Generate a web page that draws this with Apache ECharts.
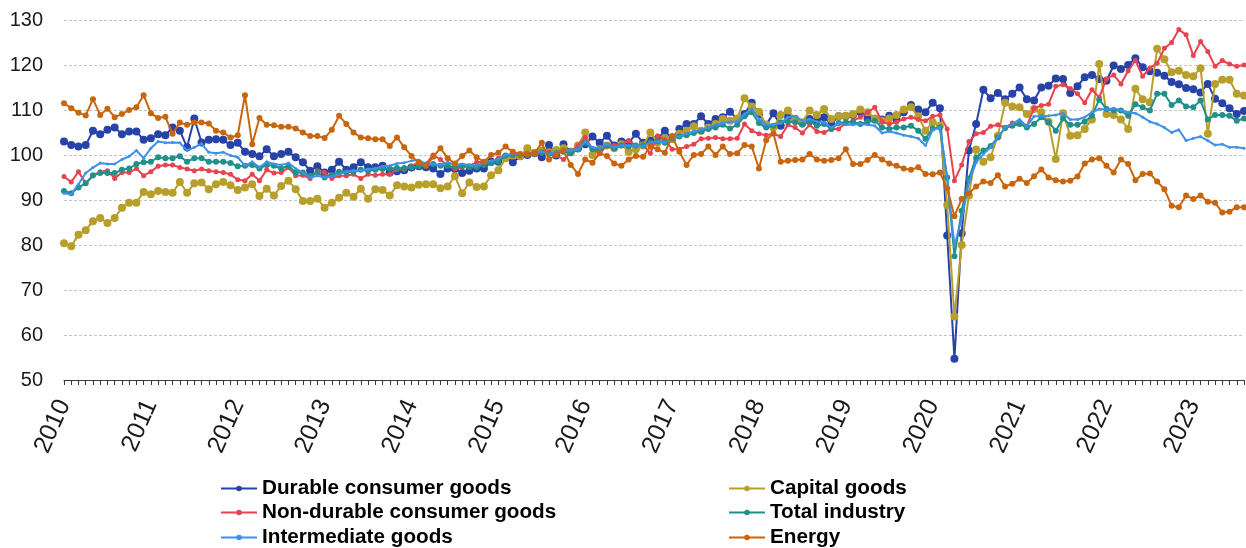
<!DOCTYPE html>
<html><head><meta charset="utf-8">
<script src="https://cdn.jsdelivr.net/npm/echarts@6/dist/echarts.min.js"></script>
<style>html,body{margin:0;padding:0;background:#fff}#c{width:1246px;height:548px}</style>
</head><body><div id="c"></div>
<script>
// Monthly categories Jan 2010 .. Aug 2023
const startYear = 2010, monthCount = 164;
const categories = [];
for (let i = 0; i < monthCount; i++) {
  const y = startYear + Math.floor(i / 12), m = (i % 12) + 1;
  categories.push(y + '-' + (m < 10 ? '0' + m : m));
}
const yTicks = [50, 60, 70, 80, 90, 100, 110, 120, 130];

const durable = [
103,102.2,101.9,102.2,105.4,104.6,105.6,106.1,104.6,105.2,105.2,103.4,
103.7,104.6,104.4,106.1,105.4,101.7,108.1,102.8,103.4,103.5,103.4,102.2,
102.7,100.7,100.2,99.7,101.3,99.7,100.2,100.7,99.5,98.4,96.5,97.5,
96.1,96.7,98.5,96.7,97.3,98.4,97.3,97.3,97.6,96.1,96.4,96.6,
97.2,97.5,97.3,97,95.8,97,96.9,96,96.5,97,97,98.5,
98.5,99.5,98.4,99.7,100,100.4,99.5,102.2,99.9,102.4,100.7,101.5,
102.4,104.1,102.7,104.3,102.1,103,102.7,104.7,102.7,103.2,103.6,105.4,
103.6,105.8,106.9,106.9,108.6,106.9,108,108.4,109.6,108,109.1,111.6,
109.1,106.7,109.3,106.5,108.6,108,107.1,108,107.6,108.4,106.9,108.6,
108.6,108.9,109.5,108.1,108,107.9,108.7,108,109.5,111.1,110.1,109.5,
111.6,110.4,82.1,54.7,82.6,101,106.9,114.5,112.6,113.8,112.4,113.6,
115,112.4,112.1,115,115.4,117,116.9,113.8,115.3,117.3,117.8,116.9,
116.5,119.9,119.1,120,121.5,119.5,118.6,118.3,117.6,116.2,115.7,114.9,
114.6,113.9,115.8,112.5,111.5,110.4,109.1,109.8];

const capital = [
80.4,79.7,82.3,83.3,85.3,86,84.9,86,88.3,89.4,89.4,91.8,
91.3,92,91.8,91.6,94,91.6,93.7,93.9,92.4,93.5,94,93.3,
92.2,92.8,93.5,90.9,92.5,91,93.1,94.3,92.4,89.8,89.8,90.3,
88.3,89.4,90.5,91.6,90.7,92.5,90.3,92.4,92.2,91,93.3,93,
92.8,93.4,93.5,93.5,92.6,93,95.3,91.5,93.9,92.9,93,95.5,
96.6,99.3,99.9,99.8,101.5,100.5,101,100.6,101.1,101.5,100.6,102.1,
105,100,101.3,102.1,101.5,102.4,100.7,101.3,102.1,105,102.8,103.7,
103.6,104.7,105.4,106.4,105.4,106.1,106.9,108,107.6,108.1,112.6,110.8,
109.6,106.7,106.1,108.9,109.9,107.9,107.3,109.9,108.9,110.2,108,108.6,
108.7,109.1,110.1,109.5,108.1,107.6,108.1,108.9,110.1,110.6,108.6,105.4,
107.3,106.5,88.9,64.1,80,91,101.2,98.5,99.5,104.3,111.6,110.8,
110.6,109.1,110.2,109.5,107.4,99.1,109.3,104.3,104.4,105.8,107.9,120.2,
109.1,108.9,107.9,105.8,114.7,112.4,111.7,123.6,121.3,118.4,118.7,117.8,
117.5,119.3,104.7,115.8,116.7,116.7,113.6,113.2];

const nonDurable = [
95.2,94,96.3,93.7,95.4,96.3,96.5,94.8,96.1,96.1,97,95.4,
96.3,97.5,97.8,97.8,97.2,96.9,96.5,96.9,96.5,96.3,96.1,95.7,
94.5,94.3,95.7,94.3,96.7,96,96.1,97.2,95.4,95.5,94.8,96.5,
96.1,94.8,95.4,95.4,95.7,94.8,95.7,95.5,95.7,95.7,96.8,96.8,
97.5,98.5,98,100,99,97.6,96.9,97.3,97.6,98.4,98.5,98.4,
99.3,99.9,100,100.2,99.9,100.2,100.4,100.6,100,99,100.6,102.1,
103.9,101.3,100.4,102.1,102.1,102.2,103.2,102.1,102.2,100.4,104.3,103.4,
101.3,101.3,101.9,102.4,103.6,103.7,103.9,103.6,103.6,103.7,106.9,105.4,
104.7,104.4,104.7,104.1,106.7,106.1,104.9,106.7,105.2,105,105.8,105.8,
107.1,107.6,108.4,109.5,110.6,107.4,106.9,107.3,108,108.4,107.9,107.6,
108.6,108.9,105.8,94.3,97.8,103,104.7,105,106.4,106.7,106.1,107.1,
106.9,106.4,110.4,111,111.3,115.3,115.6,114.8,113.6,111.6,114.5,112.8,
116.9,117.8,115.8,118.7,121,117.5,119.3,120.4,123.7,125,127.9,126.7,
122.1,125.2,123,119.7,121,120.2,119.7,120];

const totalIndustry = [
92,91.5,92.8,93.7,95.5,96,96,96,96.7,97,98,98.4,
98.5,99.5,99.3,99.3,99.7,98.5,99.3,99.3,98.5,98.5,98.5,98.2,
97.5,97.6,97.8,97,97.8,97.6,97,97.6,96.1,96.1,95.4,96.1,
95,95.5,96.3,96.1,96.3,96.7,96.5,96.7,96.9,97,97.1,97.1,
97.3,97.5,97.6,98,97.6,97.6,97.3,97.6,97.3,97.3,97.8,98.2,
98.5,99.9,100,100,100,100.4,100.6,100.2,100.4,100.7,100.4,101.2,
102.7,101.3,101.3,102.1,101.5,102.1,101.9,102.1,102.1,102.8,103,102.7,
103.7,104.1,104.4,104.9,105.2,105.8,106.1,106.7,105.9,106.7,108.6,109.5,
107.1,106.1,106.5,107.3,107.4,107.3,106.7,107.4,106.5,106.9,105.8,107.1,
107.3,107.3,106.9,107.4,107.6,106.1,105.8,106.1,106.1,106.5,105.4,103.6,
105.9,106.1,95,77.5,87.6,94.8,99.4,101,102,103.9,106,106.5,
106.9,106.1,106.9,108.4,107.3,105.4,108.1,106.7,106.7,107.4,108.7,112.3,
110.2,109.9,109.9,108.7,111.3,110.6,109.9,113.6,113.6,111.1,112.1,110.8,
110.6,112.1,107.9,108.9,108.9,108.7,107.6,108.1];

const intermediate = [
91.5,91.3,93.5,96,97.2,98.2,98,98,99,99.7,101,99.3,
101.5,103,102.7,102.8,102.7,101,101.7,102.5,100.6,100.4,100.6,99.9,
99.5,97.6,98.5,97.2,98.5,98,97.8,98.2,97,96.1,95,95.4,
95,95.2,95.7,96.3,96.5,96.5,96.9,97,97.5,97.6,98.1,98.3,
98.7,98.9,98,98,97.8,98.4,97.8,98,97.8,97.6,98.4,98.7,
99.1,100,100.2,100.2,100.2,100.6,100.7,100.2,100.6,101.2,101,101.3,
103,101.7,101.5,102.4,101.7,102.1,102.1,102.1,101.9,102.8,103,102.8,
103.6,104.1,104.7,105.2,105.6,106.1,106.7,107.1,107.4,107.4,109.1,110.2,
108,106.7,106.7,107.1,108.4,108.6,107.6,108,107.4,107.3,106.1,107.1,
106.7,106.7,106.9,106.7,106.5,104.9,105.2,104.9,104.4,104.1,103.7,102.1,
105.6,106.1,94.7,79.9,85.8,93.9,98.4,100.2,101.7,104,106.1,106.9,
107.9,106.4,108.6,108.6,108.7,108.9,109.3,107.9,107.9,108.4,109.5,110.2,
110.1,110.4,109.9,109.5,109.3,108.4,107.4,106.9,106.1,105,105.6,103.2,
103.7,104.1,103.2,102.2,102.4,101.7,101.7,101.5];

const energy = [
111.5,110.4,109.4,108.8,112.4,108.9,110.3,108.4,109.1,110,110.6,113.3,
109.3,108.2,108.5,104.7,107.2,106.7,107.2,107.2,107,105.4,105,103.9,
104.4,113.3,102.4,108.2,106.7,106.6,106.3,106.3,105.9,105,104.2,104.2,
103.8,105.6,108.7,106.9,105,103.9,103.7,103.5,103.5,102,103.9,101.7,
99.8,98.3,97.6,99.6,101.5,99.3,98.1,99.8,101,99.5,98.5,100,
100.5,101.9,100.7,100.2,100.2,100.4,102.7,99,100,101,97.8,95.8,
99,98.3,100.4,99.8,98.1,97.6,99,99.8,99.6,101.9,101.3,100.5,
104.2,100.7,97.8,100,100.2,101.9,100,101.9,100.2,100.4,102.2,101.9,
97,103.3,104.8,98.5,98.7,98.9,99,100.2,99,98.7,98.9,99.3,
101.3,98,98,98.9,100,99,98.1,97.6,97,96.7,97.3,95.8,
95.7,96.1,92.6,86.4,90.2,91.5,93,94.1,93.8,95.5,93,93.6,
94.7,93.8,95.3,96.8,95,94.4,94.1,94.3,95.2,98.1,99,99.3,
97.6,96.1,99,98,94.4,95.8,95.9,94.1,92.4,88.7,88.4,91,
90.2,91,89.6,89.4,87.2,87.4,88.4,88.4];

const names = ['Durable consumer goods','Capital goods','Non-durable consumer goods','Total industry','Intermediate goods','Energy'];
const colors = ['#2743a8','#b89f2c','#e8434e','#21908a','#3e90e8','#c9650c'];
const values = [durable, capital, nonDurable, totalIndustry, intermediate, energy];
const symSizes = [8, 8, 5, 6, 3, 6];

const legendFont = {fontSize: 20.7, fontWeight: 'bold', color: '#000',
  fontFamily: "'Liberation Sans',Arial,sans-serif"};
// legend slots: [left, top] for each series name
const legendSlots = [[220, 478], [728, 478], [220, 502], [728, 502], [220, 527], [728, 527]];

const chart = echarts.init(document.getElementById('c'), null, {renderer: 'canvas'});
chart.setOption({
  animation: false,
  backgroundColor: '#fff',
  grid: {left: 64, right: 2, top: 20, bottom: 168, containLabel: false},
  legend: names.map((n, k) => ({
    left: legendSlots[k][0], top: legendSlots[k][1], orient: 'horizontal',
    itemWidth: 36, itemHeight: 7, padding: 0, data: [n], textStyle: legendFont
  })),
  xAxis: {
    type: 'category', boundaryGap: false, data: categories,
    axisLine: {lineStyle: {color: '#3a3a3a', width: 1}},
    axisTick: {show: true, interval: 0, length: 5, lineStyle: {color: '#3a3a3a'}},
    axisLabel: {interval: (i) => i % 12 === 0, formatter: (v) => v.slice(0, 4),
      rotate: 66, fontSize: 25, color: '#1a1a1a', margin: 21,
      fontFamily: "'Liberation Sans',Arial,sans-serif"},
    splitLine: {show: false}
  },
  yAxis: {
    type: 'value', min: yTicks[0], max: yTicks[yTicks.length - 1], interval: 10,
    axisLine: {show: false}, axisTick: {show: false},
    axisLabel: {fontSize: 20, color: '#1a1a1a', margin: 21, fontFamily: "'Liberation Sans',Arial,sans-serif"},
    splitLine: {lineStyle: {type: [3, 2], color: '#c4c4c4', width: 1}}
  },
  series: names.map((n, k) => ({
    name: n, type: 'line', data: values[k], symbol: 'circle', symbolSize: symSizes[k],
    showAllSymbol: true, lineStyle: {width: 2, color: colors[k]},
    itemStyle: {color: colors[k]}, z: 2 + k
  }))
});
</script></body></html>
